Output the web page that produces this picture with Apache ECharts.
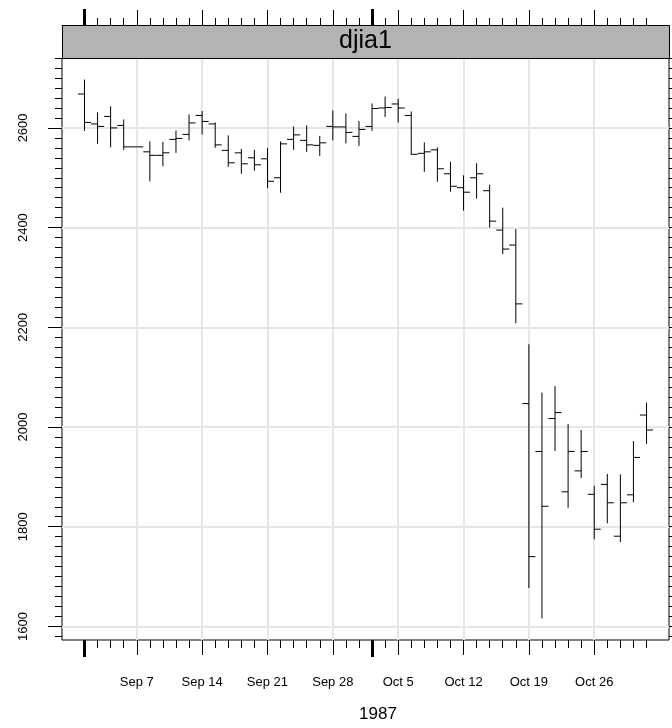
<!DOCTYPE html>
<html><head><meta charset="utf-8">
<script src="https://cdn.jsdelivr.net/npm/echarts@6/dist/echarts.min.js"></script>
<style>html,body{margin:0;padding:0;background:#fff}#c{width:672px;height:728px}</style>
</head><body><div id="c"></div>
<script>
// Trading days (x position = index in this list)
const dates = ['Sep 1','Sep 2','Sep 3','Sep 4','Sep 7','Sep 8','Sep 9','Sep 10','Sep 11',
  'Sep 14','Sep 15','Sep 16','Sep 17','Sep 18','Sep 21','Sep 22','Sep 23','Sep 24','Sep 25',
  'Sep 28','Sep 29','Sep 30','Oct 1','Oct 2','Oct 5','Oct 6','Oct 7','Oct 8','Oct 9',
  'Oct 12','Oct 13','Oct 14','Oct 15','Oct 16','Oct 19','Oct 20','Oct 21','Oct 22','Oct 23',
  'Oct 26','Oct 27','Oct 28','Oct 29','Oct 30'];
const opens  = [2668,2608,2623,2605,2562,2552,2545,2577,2587,2625,2608,2555,2550,2540,2538,2500,2577,2575,2565,2603,2602,2583,2603,2640,2648,2625,2549,2556,2508,2480,2500,2474,2395,2365,2047,1951,2017,1870,1912,1865,1885,1781,1864,2024];
const highs  = [2697,2631,2643,2617,2562,2573,2572,2595,2627,2634,2611,2585,2558,2556,2560,2573,2603,2605,2584,2635,2629,2614,2649,2663,2658,2633,2571,2561,2532,2505,2529,2486,2440,2397,2166,2069,2082,2006,1994,1882,1906,1905,1972,2049];
const lows   = [2594,2568,2561,2556,2562,2493,2523,2550,2575,2587,2560,2522,2508,2514,2479,2470,2556,2552,2544,2575,2569,2564,2594,2622,2611,2546,2512,2492,2472,2434,2458,2400,2347,2208,1677,1616,1952,1838,1898,1775,1807,1769,1849,1966];
const closes = [2611,2603,2600,2562,2562,2545,2550,2579,2610,2613,2566,2530,2528,2526,2493,2568,2586,2566,2570,2602,2591,2597,2639,2641,2640,2547,2552,2518,2483,2471,2508,2413,2357,2247,1740,1841,2029,1951,1951,1795,1848,1848,1939,1994];
const tickLabels = ['Sep 7','Sep 14','Sep 21','Sep 28','Oct 5','Oct 12','Oct 19','Oct 26'];
const monthStarts = ['Sep 1','Oct 1'];
const yMajor = [1600,1800,2000,2200,2400,2600];
const yMinorStep = 20;
const panelTitle = 'djia1';
const xTitle = '1987';

const n = dates.length;
const allIdx = dates.map((d,i)=>i);
const majorIdx = tickLabels.map(t=>dates.indexOf(t));
const monthIdx = monthStarts.map(t=>dates.indexOf(t));
const dMin = Math.min(...lows), dMax = Math.max(...highs);
const yPad = (dMax-dMin)*0.04, xPad = (n-1)*0.04;
const YMIN = dMin-yPad, YMAX = dMax+yPad, XMIN = -xPad, XMAX = n-1+xPad;
const yMinor = [];
for (let v = Math.ceil(YMIN/yMinorStep)*yMinorStep; v <= YMAX; v += yMinorStep) yMinor.push(v);

const FONT = 'Liberation Sans';
const data = dates.map((d,i)=>[i,opens[i],highs[i],lows[i],closes[i]]);

function xAx(pos, offset, ticks, len, width, extra){
  return Object.assign({
    type:'value', min:XMIN, max:XMAX, position:pos, offset:offset,
    axisLine:{show:false, onZero:false},
    axisTick:{show:true, inside:false, length:len, customValues:ticks, lineStyle:{color:'#000', width:width}},
    axisLabel:{show:false}, splitLine:{show:false}
  }, extra||{});
}
function yAx(pos, ticks, len, extra){
  return Object.assign({
    type:'value', min:YMIN, max:YMAX, position:pos,
    axisLine:{show:false, onZero:false},
    axisTick:{show:true, inside:false, length:len, customValues:ticks, lineStyle:{color:'#000', width:1}},
    axisLabel:{show:false}, splitLine:{show:false}
  }, extra||{});
}

const chart = echarts.init(document.getElementById('c'), null, {renderer:'canvas'});
chart.setOption({
  backgroundColor:'#fff',
  animation:false,
  grid:{left:62, right:3, top:58, bottom:85, show:true, borderColor:'#000', borderWidth:1, backgroundColor:'transparent'},
  xAxis:[
    xAx('bottom',0,allIdx,8,1),
    xAx('bottom',0,majorIdx,15,1,{
      axisLabel:{show:true, customValues:majorIdx, margin:36, color:'#000', fontFamily:FONT, fontSize:13,
        formatter:v=>tickLabels[majorIdx.indexOf(v)]},
      splitLine:{show:true, lineStyle:{color:'#e6e6e6', width:2}},
      name:xTitle, nameLocation:'middle', nameGap:66,
      nameTextStyle:{color:'#000', fontFamily:FONT, fontSize:17, padding:[0,0,0,25]}
    }),
    xAx('bottom',0,monthIdx,17,3),
    xAx('top',33,allIdx,7,1,{axisLine:{show:true, onZero:false, lineStyle:{color:'#000',width:1}}}),
    xAx('top',33,majorIdx,15,1),
    xAx('top',33,monthIdx,16,3)
  ],
  yAxis:[
    yAx('left',yMinor,7),
    yAx('left',yMajor,14,{
      axisLabel:{show:true, customValues:yMajor, rotate:90, margin:32, color:'#000', fontFamily:FONT, fontSize:13,
        formatter:v=>String(v)},
      splitLine:{show:true, lineStyle:{color:'#e6e6e6', width:2}}
    }),
    yAx('right',yMinor,7),
    yAx('right',yMajor,14)
  ],
  graphic:[
    {type:'rect', left:62, top:25, shape:{width:607, height:33},
     style:{fill:'#b3b3b3', stroke:'#000', lineWidth:1}, z:10},
    {type:'text', x:365.5, y:41.5, style:{text:panelTitle, fill:'#000', font:'25px "Liberation Sans"', textAlign:'center', textVerticalAlign:'middle'}, z:11}
  ],
  series:[{
    type:'custom', xAxisIndex:0, yAxisIndex:0, data:data, clip:false,
    renderItem:function(params, api){
      const x = api.value(0);
      const o = api.coord([x, api.value(1)]);
      const h = api.coord([x, api.value(2)]);
      const l = api.coord([x, api.value(3)]);
      const c = api.coord([x, api.value(4)]);
      const w = api.size([0.5,0])[0];
      const st = {stroke:'#000', lineWidth:1};
      return {type:'group', children:[
        {type:'line', shape:{x1:h[0], y1:h[1], x2:l[0], y2:l[1]}, style:st},
        {type:'line', shape:{x1:o[0]-w, y1:o[1], x2:o[0], y2:o[1]}, style:st},
        {type:'line', shape:{x1:c[0], y1:c[1], x2:c[0]+w, y2:c[1]}, style:st}
      ]};
    }
  }]
});
</script></body></html>
